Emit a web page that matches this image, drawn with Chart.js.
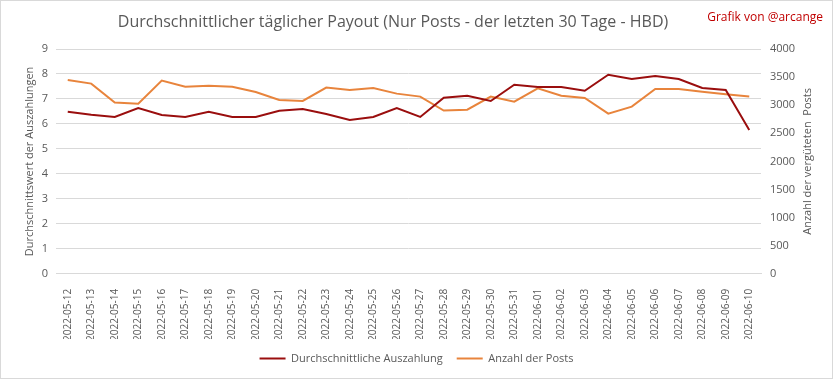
<!DOCTYPE html>
<html>
<head>
<meta charset="utf-8">
<script src="https://cdn.jsdelivr.net/npm/chart.js@4"></script>
<style>
  html, body { margin: 0; padding: 0; background: #fff; }
  #wrap { position: relative; width: 833px; height: 379px; box-sizing: border-box; border: 1px solid #d9d9d9; }
</style>
</head>
<body>
<div id="wrap"><canvas id="chart" width="831" height="377"></canvas></div>
<script>
const dates = [
  '2022-05-12', '2022-05-13', '2022-05-14', '2022-05-15', '2022-05-16', '2022-05-17',
  '2022-05-18', '2022-05-19', '2022-05-20', '2022-05-21', '2022-05-22', '2022-05-23',
  '2022-05-24', '2022-05-25', '2022-05-26', '2022-05-27', '2022-05-28', '2022-05-29',
  '2022-05-30', '2022-05-31', '2022-06-01', '2022-06-02', '2022-06-03', '2022-06-04',
  '2022-06-05', '2022-06-06', '2022-06-07', '2022-06-08', '2022-06-09', '2022-06-10'
];
const avgPayout = [
  6.49, 6.37, 6.28, 6.64, 6.36, 6.28, 6.49, 6.28, 6.28, 6.53, 6.60, 6.40,
  6.16, 6.28, 6.64, 6.28, 7.05, 7.13, 6.92, 7.57, 7.48, 7.48, 7.33, 7.97,
  7.80, 7.92, 7.80, 7.44, 7.36, 5.76
];
const postCount = [
  3449, 3384, 3046, 3028, 3437, 3330, 3348, 3330, 3236, 3093, 3076, 3313,
  3271, 3307, 3206, 3153, 2904, 2921, 3153, 3064, 3301, 3170, 3129, 2850,
  2975, 3289, 3289, 3241, 3194, 3153
];

const grey = '#595959';
const fontFam = '"Open Sans", sans-serif';

// title, credit and the right axis title (bottom-to-top like the left one)
const headerPlugin = {
  id: 'header',
  afterDraw(c) {
    const ctx = c.ctx;
    const area = c.chartArea;
    ctx.save();
    ctx.textBaseline = 'middle';
    ctx.textAlign = 'center';
    ctx.fillStyle = grey;
    ctx.font = '16px ' + fontFam;
    ctx.fillText('Durchschnittlicher täglicher Payout (Nur Posts - der letzten 30 Tage - HBD)', 392, 21);

    ctx.font = '11px ' + fontFam;
    ctx.translate(807, (area.top + area.bottom) / 2);
    ctx.rotate(-Math.PI / 2);
    ctx.fillText('Anzahl der vergüteten  Posts', 0, 0);
    ctx.restore();

    ctx.save();
    ctx.textBaseline = 'middle';
    ctx.textAlign = 'right';
    ctx.fillStyle = '#c00000';
    ctx.font = '12px ' + fontFam;
    ctx.fillText('Grafik von @arcange', 822, 17);
    ctx.restore();
  }
};

new Chart(document.getElementById('chart'), {
  type: 'line',
  data: {
    labels: dates,
    datasets: [
      {
        label: 'Durchschnittliche Auszahlung',
        data: avgPayout,
        yAxisID: 'y',
        borderColor: '#9a0e0e',
        backgroundColor: '#9a0e0e',
        borderWidth: 2,
        pointRadius: 0,
        tension: 0
      },
      {
        label: 'Anzahl der Posts',
        data: postCount,
        yAxisID: 'y1',
        borderColor: '#e8843c',
        backgroundColor: '#e8843c',
        borderWidth: 2,
        pointRadius: 0,
        tension: 0
      }
    ]
  },
  options: {
    responsive: false,
    animation: false,
    layout: { padding: { top: 48, left: 0, right: 0, bottom: 4 } },
    plugins: {
      legend: {
        position: 'bottom',
        labels: {
          usePointStyle: true,
          pointStyle: 'line',
          pointStyleWidth: 26,
          color: grey,
          font: { family: fontFam, size: 11 },
          padding: 14
        }
      },
      tooltip: { enabled: false }
    },
    scales: {
      x: {
        offset: true,
        grid: { display: false },
        border: { color: '#d9d9d9' },
        ticks: {
          color: grey,
          font: { family: fontFam, size: 10 },
          minRotation: 90,
          maxRotation: 90,
          autoSkip: false,
          padding: 7
        },
        afterFit(s) { s.height -= 9; }
      },
      y: {
        position: 'left',
        min: 0,
        max: 9,
        ticks: { stepSize: 1, color: grey, font: { family: fontFam, size: 11 }, padding: 8 },
        grid: { color: '#d9d9d9', drawTicks: false },
        border: { display: false },
        title: {
          display: true,
          text: 'Durchschnittswert der Auszahlungen',
          color: grey,
          font: { family: fontFam, size: 11 },
          padding: { top: 22, bottom: 0 }
        },
        afterFit(s) { s.width = 55; }
      },
      y1: {
        position: 'right',
        min: 0,
        max: 4000,
        ticks: {
          stepSize: 500,
          color: grey,
          font: { family: fontFam, size: 11 },
          padding: 9,
          callback: v => String(v)
        },
        grid: { display: false, drawTicks: false },
        border: { display: false },
        afterFit(s) { s.width = 71; }
      }
    }
  },
  plugins: [headerPlugin]
});
</script>
</body>
</html>
